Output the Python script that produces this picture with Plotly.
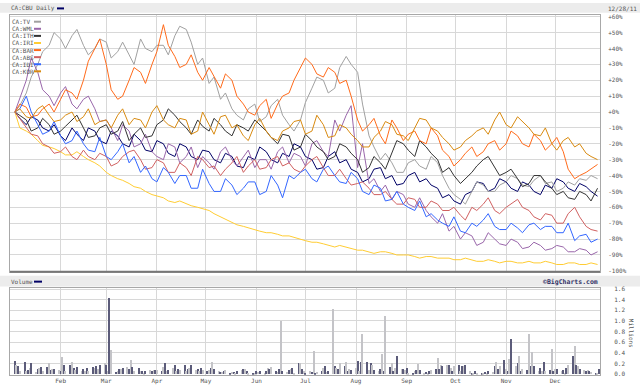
import plotly.graph_objects as go
import pandas as pd

W, H = 640, 389
def fx(p): return p / W
def fy(p): return 1 - p / H

# ---------------- data: percent change, sampled Tuesdays and Fridays ----------------
tue_dates = pd.date_range("2011-01-04", periods=52, freq="7D")
fri_dates = pd.date_range("2011-01-07", periods=51, freq="7D")

cbu_tue = [0, -8, -5, -12, -15, -10, -18, -12, -20, -15, -22, -18, -25, -20, -28, -22, -30, -25, -32, -28,
           -35, -30, -25, -32, -28, -22, -30, -35, -25, -30, -38, -42, -35, -40, -45, -38, -42, -48, -52, -58,
           -50, -45, -48, -44, -50, -46, -52, -48, -44, -50, -47, -53]
cbu_fri = [-4, -3, -10, -8, -18, -14, -10, -18, -12, -20, -14, -24, -18, -26, -20, -28, -24, -30, -26, -34,
           -28, -22, -30, -26, -20, -28, -36, -28, -32, -36, -44, -36, -42, -46, -40, -44, -46, -54, -56, -52,
           -44, -50, -42, -48, -44, -50, -46, -42, -48, -45, -50]
tv_tue = [0, 12, 30, 42, 46, 48, 42, 40, 44, 38, 36, 46, 38, 42, 48, 52, 30, 18, 8, 2,
          -5, 5, -3, 8, -8, -5, 15, 20, 15, 35, 25, -15, -30, -32, -38, -30, -36, -32, -48, -55,
          -50, -46, -50, -44, -42, -47, -40, -44, -48, -46, -43, -42]
tv_fri = [4, 22, 38, 50, 40, 52, 36, 46, 34, 44, 30, 40, 42, 36, 54, 44, 34, 22, 12, -2,
          2, -6, 4, -2, -12, 6, 22, 12, 28, 30, 5, -22, -26, -38, -32, -34, -28, -40, -52, -58,
          -44, -50, -46, -40, -46, -43, -45, -50, -44, -42, -40]
wml_tue = [0, 20, 25, 10, 12, 5, 8, 2, -5, -18, -12, -20, -25, -30, -22, -28, -35, -32, -25, -30,
           -28, -35, -30, -25, -32, -28, -20, -25, -5, -2, -35, -45, -50, -55, -52, -60, -62, -70, -75, -80,
           -78, -82, -80, -84, -82, -85, -84, -86, -85, -88, -87, -88]
wml_fri = [8, 34, 14, 4, 16, 2, 10, -6, -10, -8, -22, -14, -28, -20, -32, -22, -28, -36, -22, -34,
           -24, -30, -36, -22, -26, -34, -18, -28, -12, 4, -20, -42, -46, -50, -58, -54, -66, -64, -72, -76,
           -84, -76, -83, -80, -86, -82, -87, -84, -88, -86, -90]
ith_tue = [0, -5, -10, -8, -12, -5, -10, -15, -8, -12, -18, -10, -15, -5, -2, -10, -5, -12, -8, -15,
           -10, -5, -12, -20, -15, -22, -18, -25, -28, -22, -30, -35, -32, -25, -20, -28, -22, -30, -35, -45,
           -38, -30, -35, -38, -42, -45, -40, -48, -50, -55, -52, -48]
ith_fri = [-2, -12, -4, -14, -9, -2, -16, -10, -14, -6, -14, -16, -8, 2, -6, -14, -9, -4, -12, -8,
           -12, -8, -16, -14, -24, -14, -22, -30, -20, -26, -38, -28, -36, -18, -24, -18, -26, -38, -40, -42,
           -34, -28, -40, -36, -47, -40, -44, -52, -54, -50, -56]
iri_tue = [0, -12, -18, -22, -25, -27, -28, -32, -38, -42, -45, -48, -52, -54, -57, -58, -60, -62, -66, -70,
           -72, -74, -76, -77, -78, -80, -82, -83, -85, -85, -87, -88, -88, -89, -90, -91, -91, -92, -92, -93,
           -93, -94, -94, -94, -95, -94, -95, -95, -96, -95, -96, -96]
iri_fri = [-10, -14, -21, -23, -27, -25, -30, -34, -40, -43, -47, -50, -53, -56, -56, -59, -61, -64, -68, -71,
           -73, -75, -76, -78, -79, -81, -82, -84, -84, -86, -87, -89, -88, -90, -90, -92, -91, -92, -93, -92,
           -94, -93, -95, -94, -95, -95, -94, -96, -95, -96, -95]
bar_tue = [0, 3, -2, 5, 8, 12, 20, 40, 30, 8, 20, 25, 30, 55, 35, 30, 25, 28, 15, 20,
           5, -2, 8, 5, 12, 28, 30, 22, 25, 20, -5, -8, -15, -5, -18, -12, -20, -15, -28, -30,
           -22, -25, -18, -20, -15, -22, -18, -20, -25, -42, -38, -33]
bar_fri = [5, -3, 2, 0, 14, 8, 32, 46, 14, 10, 28, 18, 38, 42, 28, 36, 20, 22, 24, 10,
           0, 4, -4, 10, 20, 34, 24, 28, 18, 10, -12, -4, -20, -10, -14, -18, -10, -24, -34, -26,
           -28, -20, -24, -12, -20, -14, -24, -16, -36, -40, -36]
abs_tue = [0, -10, -15, -22, -25, -28, -24, -30, -28, -32, -25, -30, -35, -32, -38, -35, -28, -35, -40, -32,
           -38, -30, -35, -28, -32, -38, -30, -35, -40, -42, -45, -48, -52, -55, -58, -55, -60, -58, -62, -65,
           -60, -58, -62, -60, -55, -62, -68, -65, -70, -60, -72, -75]
abs_fri = [-4, -14, -20, -26, -22, -30, -28, -26, -34, -28, -24, -36, -30, -38, -32, -40, -30, -34, -36, -28,
           -34, -36, -30, -34, -36, -34, -28, -40, -36, -46, -44, -52, -50, -58, -54, -60, -56, -62, -60, -68,
           -62, -54, -64, -58, -60, -66, -64, -70, -64, -66, -74]
idi_tue = [0, 10, -8, -12, -15, -18, -20, -25, -28, -25, -32, -38, -42, -35, -45, -40, -48, -45, -50, -46,
           -48, -44, -50, -46, -40, -38, -42, -36, -40, -45, -42, -52, -48, -55, -58, -62, -66, -68, -72, -75,
           -70, -68, -72, -74, -73, -71, -74, -72, -76, -81, -77, -80]
idi_fri = [2, 0, -14, -6, -20, -12, -24, -16, -30, -20, -28, -34, -44, -38, -40, -48, -36, -50, -42, -52,
           -44, -52, -40, -54, -42, -36, -44, -34, -44, -38, -50, -46, -56, -50, -60, -56, -64, -70, -66, -76,
           -72, -64, -74, -70, -76, -70, -72, -76, -70, -78, -82]
kor_tue = [0, -3, 2, -2, -5, 0, -3, -8, -5, -2, -8, -5, 0, -5, -10, -5, -12, -8, -3, -10,
           -15, -8, -12, -18, -10, -5, -12, -8, -15, -10, -18, -22, -12, -8, -15, -10, -5, -12, -20, -22,
           -15, -10, -5, -8, -3, -10, -15, -20, -18, -22, -26, -30]
kor_fri = [2, -4, 4, -6, -2, -6, 2, -6, -10, 2, -4, -10, 4, -8, -4, -14, 0, -14, -2, -8,
           -18, -4, -16, -12, -6, -14, -2, -16, -8, -14, -22, -16, -6, -14, -18, -4, -10, -16, -24, -18,
           -12, -14, 0, -10, -6, -14, -10, -24, -16, -20, -28]

legend_names = ["CA:TV", "CA:WML", "CA:ITH", "CA:IRI", "CA:BAR", "CA:ABS", "CA:IDI", "CA:KOR"]
legend_colors = ["#a0a0a0", "#9966aa", "#333333", "#ffcc33", "#ff6a1a", "#d06060", "#3366ff", "#d88a10"]
comp_series = [(tv_tue, tv_fri), (wml_tue, wml_fri), (ith_tue, ith_fri), (iri_tue, iri_fri),
               (bar_tue, bar_fri), (abs_tue, abs_fri), (idi_tue, idi_fri), (kor_tue, kor_fri)]

pct_ticks = [60, 50, 40, 30, 20, 10, 0, -10, -20, -30, -40, -50, -60, -70, -80, -90, -100]
pct_labels = ["+60%", "+50%", "+40%", "+30%", "+20%", "+10%", "+0%", "-10%", "-20%", "-30%",
              "-40%", "-50%", "-60%", "-70%", "-80%", "-90%", "-100%"]

# volume in millions, per trading day
vol_jan = [0.24, 0.17, 0.15, 0.05, 0.22, 0.06, 0.08, 0.12, 0.2, 0.04, 0.09, 0.11, 0.13, 0.05, 0.13, 0.21, 0.07, 0.1, 0.1, 0.08]
vol_feb = [0.05, 0.33, 0.17, 0.06, 0.17, 0.22, 0.12, 0.08, 0.14, 0.06, 0.09, 0.05, 0.12, 0.05, 0.14, 0.12, 0.15, 0.1, 0.17, 0.2]
vol_mar = [0.18, 0.06, 1.43, 0.46, 0.04, 0.06, 0.1, 0.09, 0.12, 0.13, 0.1, 0.27, 0.14, 0.06, 0.12, 0.05, 0.06, 0.03, 0.06, 0.08, 0.05, 0.08, 0.07]
vol_apr = [0.08, 0.05, 0.13, 0.2, 0.05, 0.08, 0.12, 0.18, 0.06, 0.1, 0.08, 0.18, 0.05, 0.1, 0.12, 0.17, 0.08, 0.1, 0.05, 0.12, 0.07]
vol_may = [0.05, 0.08, 0.12, 0.22, 0.1, 0.05, 0.04, 0.04, 0.06, 0.08, 0.03, 0.04, 0.04, 0.03, 0.06, 0.08, 0.1, 0.1, 0.06, 0.02, 0.03, 0.02]
vol_jun = [0.06, 0.04, 0.05, 0.03, 0.06, 0.12, 0.1, 0.14, 0.06, 0.04, 0.1, 1.0, 0.06, 0.04, 0.08, 0.1, 0.12, 0.03, 0.2, 0.2, 0.1, 0.06]
vol_jul = [0.03, 0.05, 0.04, 0.43, 0.03, 0.04, 0.06, 0.12, 0.15, 0.04, 0.05, 1.22, 0.15, 0.12, 0.1, 0.2, 0.15, 0.22, 0.05, 0.1, 0.08]
vol_aug = [0.12, 0.24, 0.05, 0.22, 0.76, 0.22, 0.08, 0.2, 0.17, 0.08, 0.05, 0.1, 0.37, 0.06, 1.1, 0.13, 0.2, 0.06, 0.12, 0.35, 0.1, 0.1, 0.08]
vol_sep = [0.12, 0.02, 0.03, 0.06, 0.08, 0.19, 0.08, 0.03, 0.04, 0.03, 0.06, 0.08, 0.1, 0.3, 0.1, 0.18, 0.15, 0.18, 0.17, 0.12, 0.05, 0.15]
vol_oct = [0.17, 0.05, 0.16, 0.15, 0.17, 0.05, 0.03, 0.03, 0.06, 0.02, 0.03, 0.02, 0.04, 0.03, 0.05, 0.04, 0.15, 0.22, 0.1, 0.15, 0.26]
vol_nov = [0.1, 0.05, 0.28, 0.67, 0.15, 0.2, 0.35, 0.05, 0.1, 0.08, 0.76, 0.15, 0.42, 0.15, 0.05, 0.12, 0.05, 0.22, 0.05, 0.08, 0.47, 0.05]
vol_dec = [0.1, 0.1, 0.05, 0.08, 0.03, 0.12, 0.18, 0.35, 0.52, 0.18, 0.15, 0.1, 0.08, 0.06, 0.08, 0.05, 0.04, 0.02, 0.03, 0.1]
volume = (vol_jan + vol_feb + vol_mar + vol_apr + vol_may + vol_jun + vol_jul + vol_aug +
          vol_sep + vol_oct + vol_nov + vol_dec)
vol_dates = pd.bdate_range("2011-01-04", periods=len(volume))

month_ticks = ["2011-%02d-01" % m for m in range(2, 13)]
month_labels = ["Feb", "Mar", "Apr", "May", "Jun", "Jul", "Aug", "Sep", "Oct", "Nov", "Dec"]


def interleave(tue, fri):
    xs, ys = [], []
    for i in range(len(tue)):
        xs.append(tue_dates[i]); ys.append(tue[i])
        if i < len(fri):
            xs.append(fri_dates[i]); ys.append(fri[i])
    return xs, ys


# ---------------- figure ----------------
fig = go.Figure()
x, y = interleave(cbu_tue, cbu_fri)
fig.add_trace(go.Scatter(x=x, y=y, mode="lines", line=dict(color="#000066", width=1),
                         xaxis="x", yaxis="y", showlegend=False, hoverinfo="skip"))
for (tue, fri), col in zip(comp_series, legend_colors):
    x, y = interleave(tue, fri)
    fig.add_trace(go.Scatter(x=x, y=y, mode="lines", line=dict(color=col, width=1),
                             xaxis="x", yaxis="y", showlegend=False, hoverinfo="skip"))

bar_colors = ["#5c5c7a" if i % 2 == 0 else "#c4c4c8" for i in range(len(volume))]
fig.add_trace(go.Bar(x=vol_dates, y=volume, marker=dict(color=bar_colors, line=dict(width=0)),
                     width=86400000 * 0.7, xaxis="x2", yaxis="y2", showlegend=False, hoverinfo="skip"))

xr = ["2011-01-01", "2011-12-28 12:00"]
grid = "#d8d8d8"
FONT = "DejaVu Sans Mono"
tickfont = dict(family=FONT, size=6, color="#555555")

fig.update_layout(
    width=W, height=H, margin=dict(l=0, r=0, t=0, b=0),
    paper_bgcolor="white", plot_bgcolor="white", bargap=0,
    xaxis=dict(domain=[fx(10), fx(600)], range=xr, type="date", anchor="y",
               tickvals=month_ticks, showticklabels=False, showgrid=True, gridcolor=grid, gridwidth=1,
               showline=True, mirror=True, linecolor="#a8a8a8", linewidth=1, ticks="", zeroline=False),
    yaxis=dict(domain=[fy(273), fy(12)], range=[-100.6, 61.2], side="right", anchor="x",
               tickvals=pct_ticks, ticktext=pct_labels, tickfont=tickfont, ticks="",
               ticklabelstandoff=6, showgrid=True, gridcolor=grid, gridwidth=1, zeroline=False,
               showline=True, mirror=True, linecolor="#a8a8a8", linewidth=1),
    xaxis2=dict(domain=[fx(10), fx(600)], range=xr, type="date", anchor="y2",
                tickvals=month_ticks, ticktext=month_labels, tickfont=tickfont, ticks="",
                showgrid=True, gridcolor=grid, gridwidth=1,
                showline=True, mirror=True, linecolor="#a8a8a8", linewidth=1, zeroline=False),
    yaxis2=dict(domain=[fy(377.5), fy(289.5)], range=[-0.01, 1.62], side="right", anchor="x2",
                tickvals=[0, 0.2, 0.4, 0.6, 0.8, 1.0, 1.2, 1.4, 1.6], tickformat=".1f",
                tickfont=tickfont, ticks="", ticklabelstandoff=12, showgrid=True, gridcolor=grid,
                zeroline=False, showline=True, mirror=True, linecolor="#a8a8a8", linewidth=1),
)

shapes = [
    dict(type="rect", xref="paper", yref="paper", x0=0, x1=1, y0=fy(10), y1=fy(0),
         fillcolor="#ececec", line=dict(width=0), layer="below"),
    dict(type="rect", xref="paper", yref="paper", x0=0, x1=1, y0=fy(288), y1=fy(277),
         fillcolor="#ececec", line=dict(width=0), layer="below"),
    dict(type="line", xref="paper", yref="paper", x0=fx(57), x1=fx(64), y0=fy(5.5), y1=fy(5.5),
         line=dict(color="#000066", width=2)),
    dict(type="line", xref="paper", yref="paper", x0=fx(34), x1=fx(42), y0=fy(283), y1=fy(283),
         line=dict(color="#000066", width=2)),
    dict(type="line", xref="paper", yref="paper", x0=fx(10), x1=fx(600), y0=fy(273), y1=fy(273),
         line=dict(color="#777777", width=2)),
]
small = dict(family=FONT, size=6, color="#555555")
annotations = [
    dict(text="CA:CBU Daily", x=fx(9), y=fy(5.5), xref="paper", yref="paper", xanchor="left",
         yanchor="middle", showarrow=False, font=small),
    dict(text="12/28/11", x=fx(639), y=fy(5.5), xref="paper", yref="paper", xanchor="right",
         yanchor="middle", showarrow=False, font=small),
    dict(text="Volume", x=fx(9), y=fy(283), xref="paper", yref="paper", xanchor="left",
         yanchor="middle", showarrow=False, font=small),
    dict(text="<b>©BigCharts.com</b>", x=fx(600), y=fy(283), xref="paper", yref="paper", xanchor="right",
         yanchor="middle", showarrow=False, font=dict(family=FONT, size=6.5, color="#333366")),
    dict(text="Millions", x=fx(631), y=fy(335), xref="paper", yref="paper", xanchor="center",
         yanchor="middle", textangle=90, showarrow=False, font=small),
]
for i, (name, col) in enumerate(zip(legend_names, legend_colors)):
    yy = 19 + 7.2 * i
    annotations.append(dict(text=name, x=fx(10), y=fy(yy), xref="paper", yref="paper",
                            xanchor="left", yanchor="middle", showarrow=False, font=small))
    shapes.append(dict(type="line", xref="paper", yref="paper", x0=fx(34), x1=fx(41),
                       y0=fy(yy), y1=fy(yy), line=dict(color=col, width=2)))

fig.update_layout(shapes=shapes, annotations=annotations)
fig.write_html("out.html", config={"displayModeBar": False},
               post_script="document.body.style.margin='0';document.body.style.overflow='hidden';")
